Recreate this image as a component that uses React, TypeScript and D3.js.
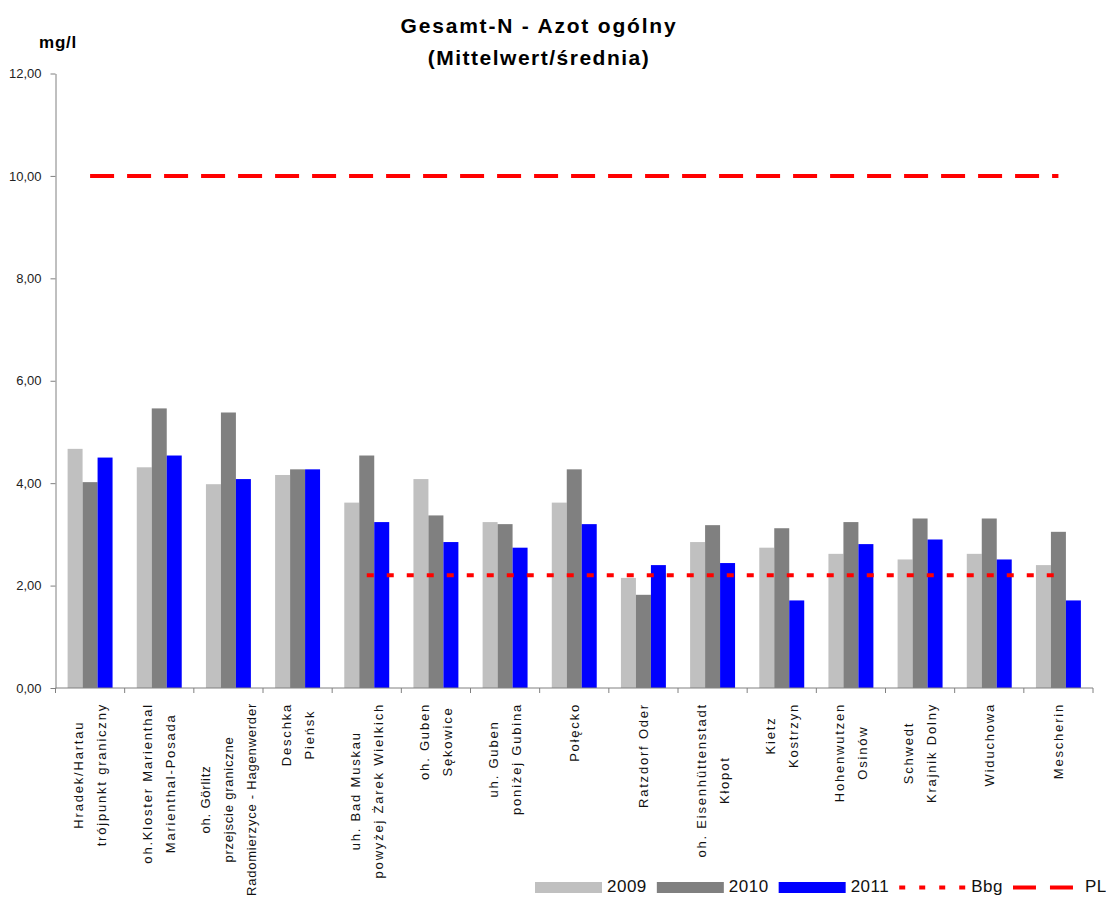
import React, { useEffect, useRef } from "react";
import * as d3 from "d3";

// station labels (each entry = lines of the rotated label)
const stations: string[][] = [
  ["Hradek/Hartau", "trójpunkt graniczny"],
  ["oh.Kloster Marienthal", "Marienthal-Posada"],
  ["oh. Görlitz", "przejscie graniczne", "Radomierzyce - Hagenwerder"],
  ["Deschka", "Pieńsk"],
  ["uh. Bad Muskau", "powyżej Żarek Wielkich"],
  ["oh. Guben", "Sękowice"],
  ["uh. Guben", "poniżej Gubina"],
  ["Połęcko"],
  ["Ratzdorf Oder"],
  ["oh. Eisenhüttenstadt", "Kłopot"],
  ["Kietz", "Kostrzyn"],
  ["Hohenwutzen", "Osinów"],
  ["Schwedt", "Krajnik Dolny"],
  ["Widuchowa"],
  ["Mescherin"],
];

const years = ["2009", "2010", "2011"];
const values2009 = [4.67, 4.31, 3.98, 4.16, 3.62, 4.08, 3.24, 3.62, 2.15, 2.85, 2.74, 2.62, 2.51, 2.62, 2.4];
const values2010 = [4.02, 5.46, 5.38, 4.27, 4.54, 3.37, 3.2, 4.27, 1.82, 3.18, 3.12, 3.24, 3.31, 3.31, 3.05];
const values2011 = [4.5, 4.54, 4.08, 4.27, 3.24, 2.85, 2.74, 3.2, 2.4, 2.44, 1.71, 2.81, 2.9, 2.51, 1.71];
const seriesValues = [values2009, values2010, values2011];
const seriesColors = ["#c0c0c0", "#808080", "#0000ff"];

const bbgLimit = 2.2;
const bbgFirstStation = 4;
const plLimit = 10;
const yTicks = [0, 2, 4, 6, 8, 10, 12];

const W = 1106;
const H = 899;
const FONT = "'Liberation Sans', Arial, sans-serif";

const App: React.FC = () => {
  const svgRef = useRef<SVGSVGElement>(null);

  useEffect(() => {
    if (!svgRef.current) return;
    const svg = d3.select(svgRef.current);
    svg.selectAll("*").remove();

    const plotLeft = 55.5;
    const plotRight = 1093;
    const plotTop = 73.5;
    const plotBottom = 688;

    const x = d3.scaleBand<number>()
      .domain(d3.range(stations.length))
      .range([plotLeft, plotRight])
      .padding(0);
    const groupW = x.bandwidth() * 0.65;
    const xs = d3.scaleBand<number>()
      .domain(d3.range(years.length))
      .range([0, groupW]);
    const y = d3.scaleLinear().domain([0, 12]).range([plotBottom, plotTop]);
    const cx = (i: number) => (x(i) as number) + x.bandwidth() / 2;

    // titles
    svg.append("text")
      .attr("x", 539).attr("y", 33)
      .attr("text-anchor", "middle")
      .attr("font-family", FONT).attr("font-weight", "bold")
      .attr("font-size", 21).attr("letter-spacing", 1.8)
      .text("Gesamt-N - Azot ogólny");
    svg.append("text")
      .attr("x", 539).attr("y", 65)
      .attr("text-anchor", "middle")
      .attr("font-family", FONT).attr("font-weight", "bold")
      .attr("font-size", 21).attr("letter-spacing", 1.5)
      .text("(Mittelwert/średnia)");
    svg.append("text")
      .attr("x", 39).attr("y", 48)
      .attr("font-family", FONT).attr("font-weight", "bold")
      .attr("font-size", 17).attr("letter-spacing", 0.8)
      .text("mg/l");

    // bars
    stations.forEach((_, i) => {
      const g = svg.append("g")
        .attr("transform", `translate(${cx(i) - groupW / 2},0)`);
      seriesValues.forEach((vals, s) => {
        g.append("rect")
          .attr("x", xs(s) as number)
          .attr("y", y(vals[i]))
          .attr("width", xs.bandwidth())
          .attr("height", y(0) - y(vals[i]))
          .attr("fill", seriesColors[s]);
      });
    });

    // limit lines
    svg.append("line")
      .attr("x1", cx(0)).attr("x2", cx(stations.length - 1))
      .attr("y1", y(plLimit)).attr("y2", y(plLimit))
      .attr("stroke", "#ff0000").attr("stroke-width", 4)
      .attr("stroke-dasharray", "24,13");
    svg.append("line")
      .attr("x1", cx(bbgFirstStation)).attr("x2", cx(stations.length - 1))
      .attr("y1", y(bbgLimit)).attr("y2", y(bbgLimit))
      .attr("stroke", "#ff0000").attr("stroke-width", 4)
      .attr("stroke-dasharray", "7,13");

    // y axis
    const yAxis = svg.append("g")
      .attr("transform", `translate(${plotLeft},0)`)
      .call(
        d3.axisLeft(y)
          .tickValues(yTicks)
          .tickSize(5)
          .tickSizeOuter(0)
          .tickPadding(9)
          .tickFormat((d) => d3.format(".2f")(d as number).replace(".", ","))
      );
    yAxis.select(".domain").attr("stroke", "#808080");
    yAxis.selectAll(".tick line").attr("stroke", "#808080");
    yAxis.selectAll(".tick text")
      .attr("font-family", FONT).attr("font-size", 13).attr("fill", "#222");

    // x axis
    svg.append("line")
      .attr("x1", plotLeft).attr("x2", plotRight)
      .attr("y1", plotBottom).attr("y2", plotBottom)
      .attr("stroke", "#808080");
    const bounds = stations.map((_, i) => x(i) as number).concat([plotRight]);
    svg.selectAll(".xtick")
      .data(bounds)
      .enter().append("line")
      .attr("x1", (d) => d).attr("x2", (d) => d)
      .attr("y1", plotBottom).attr("y2", plotBottom + 5)
      .attr("stroke", "#808080");

    // rotated station labels
    const labelTop = 703;
    const lineGap = 23;
    const room = H - 3 - labelTop;
    stations.forEach((lines, i) => {
      const g = svg.append("g")
        .attr("transform", `translate(${cx(i)},${labelTop}) rotate(-90)`);
      const texts = lines.map((ln, k) =>
        g.append("text")
          .attr("x", 0)
          .attr("y", (k - (lines.length - 1) / 2) * lineGap)
          .attr("dominant-baseline", "central")
          .attr("text-anchor", "middle")
          .attr("font-family", FONT).attr("font-size", 13)
          .attr("letter-spacing", 1.8).attr("fill", "#111")
          .text(ln)
      );
      const measure = () =>
        d3.max(texts, (t) => (t.node() as SVGTextElement).getComputedTextLength()) || 0;
      let maxLen = measure();
      if (maxLen > room) {
        // tighten this label so it stays inside the picture
        const longest = d3.max(lines, (l) => l.length) || 1;
        const ls = Math.max(0, 1.8 - (maxLen - room) / longest);
        texts.forEach((t) => t.attr("letter-spacing", ls));
        maxLen = measure();
      }
      texts.forEach((t) => t.attr("x", -maxLen / 2));
    });

    // legend
    const legendItems = [
      ...years.map((yr, s) => ({ label: yr, kind: "rect", color: seriesColors[s], w: 67, dash: "" })),
      { label: "Bbg", kind: "line", color: "#ff0000", w: 67, dash: "6,14" },
      { label: "PL", kind: "line", color: "#ff0000", w: 60, dash: "23,14" },
    ];
    let cursor = 535;
    const legY = 887.5;
    legendItems.forEach((it) => {
      if (it.kind === "rect") {
        svg.append("rect")
          .attr("x", cursor).attr("y", legY - 5.5)
          .attr("width", it.w).attr("height", 11)
          .attr("fill", it.color);
      } else {
        svg.append("line")
          .attr("x1", cursor).attr("x2", cursor + it.w)
          .attr("y1", legY).attr("y2", legY)
          .attr("stroke", it.color).attr("stroke-width", 4)
          .attr("stroke-dasharray", it.dash);
      }
      const t = svg.append("text")
        .attr("x", cursor + 72).attr("y", 892)
        .attr("font-family", FONT).attr("font-size", 17)
        .attr("letter-spacing", 0.5).attr("fill", "#111")
        .text(it.label);
      const tw = (t.node() as SVGTextElement).getComputedTextLength();
      cursor = cursor + 72 + tw + 10;
    });
  }, []);

  return (
    <svg
      ref={svgRef}
      width={W}
      height={H}
      style={{ position: "absolute", left: 0, top: 0, background: "#fff", display: "block" }}
    />
  );
};

export default App;
